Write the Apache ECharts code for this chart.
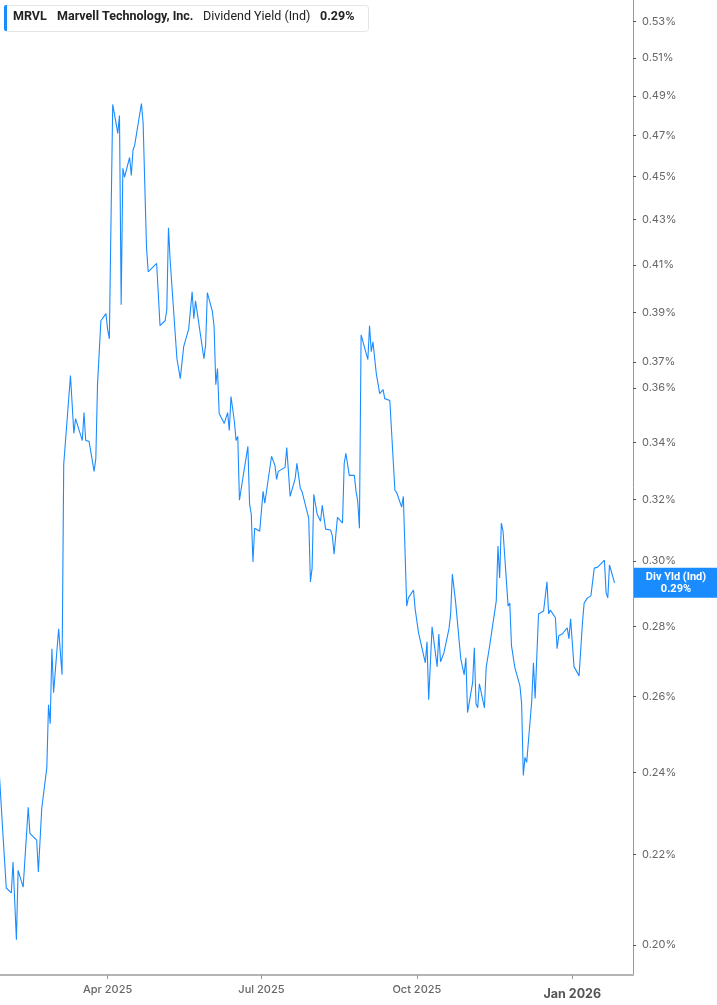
<!DOCTYPE html>
<html style="height: 100%">
<head>
<meta charset="utf-8">
</head>
<body style="height: 100%; margin: 0; background: #fff">
<div id="container" style="width: 717px; height: 1005px"></div>
<script type="text/javascript" src="https://cdn.jsdelivr.net/npm/echarts@6/dist/echarts.min.js"></script>
<script type="text/javascript">
var dom = document.getElementById('container');
var myChart = echarts.init(dom);

// trading dates
var dates = [
  '2025-01-27','2025-01-29','2025-01-31','2025-02-03','2025-02-04','2025-02-06','2025-02-07','2025-02-10','2025-02-13','2025-02-14',
  '2025-02-18','2025-02-19','2025-02-21','2025-02-24','2025-02-25','2025-02-26','2025-02-27','2025-02-28','2025-03-03','2025-03-05',
  '2025-03-06','2025-03-10','2025-03-12','2025-03-13','2025-03-17','2025-03-18','2025-03-19','2025-03-21','2025-03-24','2025-03-25',
  '2025-03-26','2025-03-28','2025-03-31','2025-04-01','2025-04-02','2025-04-03','2025-04-04','2025-04-06','2025-04-07','2025-04-08',
  '2025-04-09','2025-04-10','2025-04-11','2025-04-14','2025-04-15','2025-04-16','2025-04-17','2025-04-21','2025-04-22','2025-04-24',
  '2025-04-25','2025-04-30','2025-05-02','2025-05-05','2025-05-06','2025-05-07','2025-05-08','2025-05-12','2025-05-14','2025-05-16',
  '2025-05-19','2025-05-21','2025-05-22','2025-05-23','2025-05-28','2025-05-29','2025-05-30','2025-06-02','2025-06-03','2025-06-04',
  '2025-06-05','2025-06-06','2025-06-09','2025-06-11','2025-06-12','2025-06-13','2025-06-15','2025-06-16','2025-06-17','2025-06-18',
  '2025-06-20','2025-06-23','2025-06-24','2025-06-25','2025-06-26','2025-06-27','2025-06-30','2025-07-02','2025-07-03','2025-07-07',
  '2025-07-09','2025-07-10','2025-07-11','2025-07-15','2025-07-16','2025-07-18','2025-07-21','2025-07-22','2025-07-24','2025-07-25',
  '2025-07-29','2025-07-30','2025-07-31','2025-08-01','2025-08-03','2025-08-05','2025-08-06','2025-08-08','2025-08-11','2025-08-12',
  '2025-08-13','2025-08-15','2025-08-18','2025-08-19','2025-08-20','2025-08-21','2025-08-22','2025-08-25','2025-08-26','2025-08-27',
  '2025-08-28','2025-08-29','2025-09-02','2025-09-03','2025-09-04','2025-09-05','2025-09-07','2025-09-09','2025-09-11','2025-09-12',
  '2025-09-15','2025-09-18','2025-09-19','2025-09-22','2025-09-23','2025-09-25','2025-09-26','2025-09-29','2025-09-30','2025-10-01',
  '2025-10-02','2025-10-03','2025-10-06','2025-10-07','2025-10-08','2025-10-10','2025-10-13','2025-10-14','2025-10-15','2025-10-17',
  '2025-10-20','2025-10-21','2025-10-22','2025-10-24','2025-10-27','2025-10-28','2025-10-29','2025-10-30','2025-10-31','2025-11-03',
  '2025-11-04','2025-11-05','2025-11-06','2025-11-07','2025-11-10','2025-11-11','2025-11-12','2025-11-13','2025-11-17','2025-11-18',
  '2025-11-19','2025-11-20','2025-11-21','2025-11-24','2025-11-25','2025-11-26','2025-11-28','2025-12-01','2025-12-02','2025-12-03',
  '2025-12-04','2025-12-05','2025-12-08','2025-12-09','2025-12-10','2025-12-12','2025-12-15','2025-12-16','2025-12-17','2025-12-18',
  '2025-12-19','2025-12-22','2025-12-23','2025-12-24','2025-12-26','2025-12-29','2025-12-30','2025-12-31','2026-01-02','2026-01-05',
  '2026-01-07','2026-01-08','2026-01-10','2026-01-12','2026-01-13','2026-01-14','2026-01-16','2026-01-17','2026-01-20','2026-01-21',
  '2026-01-22','2026-01-23','2026-01-24','2026-01-26'
];

// dividend yield (Ind), percent
var yieldPct = [
  0.2389,0.2250,0.2124,0.2113,0.2183,0.2011,0.2164,0.2126,0.2313,0.2250,
  0.2234,0.2160,0.2310,0.2412,0.2577,0.2526,0.2734,0.2610,0.2792,0.2660,
  0.3321,0.3648,0.3432,0.3486,0.3406,0.3508,0.3406,0.3403,0.3297,0.3342,
  0.3613,0.3865,0.3894,0.3829,0.3792,0.4303,0.4856,0.4760,0.4710,0.4800,
  0.3931,0.4540,0.4497,0.4592,0.4506,0.4627,0.4652,0.4861,0.4760,0.4175,
  0.4070,0.4106,0.3845,0.3865,0.3910,0.4264,0.4119,0.3713,0.3636,0.3761,
  0.3833,0.3985,0.3873,0.3947,0.3713,0.3769,0.3981,0.3902,0.3841,0.3613,
  0.3675,0.3505,0.3468,0.3508,0.3442,0.3568,0.3475,0.3406,0.3421,0.3198,
  0.3273,0.3385,0.3185,0.3151,0.2996,0.3105,0.3095,0.3228,0.3188,0.3350,
  0.3318,0.3269,0.3297,0.3311,0.3381,0.3211,0.3273,0.3325,0.3239,0.3228,
  0.3138,0.2934,0.2977,0.3218,0.3151,0.3128,0.3181,0.3102,0.3099,0.3079,
  0.3021,0.3141,0.3122,0.3325,0.3360,0.3364,0.3283,0.3283,0.3228,0.3195,
  0.3105,0.3808,0.3710,0.3845,0.3741,0.3780,0.3655,0.3579,0.3594,0.3560,
  0.3553,0.3232,0.3225,0.3175,0.3211,0.2860,0.2885,0.2909,0.2851,0.2854,
  0.2780,0.2777,0.2694,0.2754,0.2591,0.2798,0.2683,0.2777,0.2697,0.2722,
  0.2792,0.2836,0.2958,0.2869,0.2705,0.2708,0.2660,0.2708,0.2556,0.2638,
  0.2737,0.2580,0.2569,0.2635,0.2569,0.2680,0.2685,0.2740,0.2876,0.3047,
  0.2946,0.3122,0.3095,0.2860,0.2869,0.2743,0.2680,0.2629,0.2580,0.2392,
  0.2438,0.2425,0.2588,0.2694,0.2594,0.2836,0.2845,0.2851,0.2934,0.2836,
  0.2848,0.2825,0.2734,0.2772,0.2777,0.2795,0.2763,0.2822,0.2683,0.2657,
  0.2810,0.2869,0.2885,0.2891,0.2888,0.2977,0.2980,0.2983,0.3002,0.2900,
  0.2885,0.2987,0.2968,0.2931
];

var yTicks = [0.20,0.22,0.24,0.26,0.28,0.30,0.32,0.34,0.36,0.37,0.39,0.41,0.43,0.45,0.47,0.49,0.51,0.53];
var xTicks = ['2025-04-01','2025-07-01','2025-10-01','2026-01-01'];
var monthNames = ['Jan','Feb','Mar','Apr','May','Jun','Jul','Aug','Sep','Oct','Nov','Dec'];

var lineColor = '#1a8cff';
var FONT = 'Roboto';
var AXFONT = 'Inter';

function ts(s) {
    var p = s.split('-');
    return Date.UTC(+p[0], +p[1] - 1, +p[2]);
}

var seriesData = dates.map(function (d, i) { return [ts(d), yieldPct[i]]; });
var lastVal = yieldPct[yieldPct.length - 1];
var xMin = Date.UTC(2025, 0, 27, 7);
var xMax = Date.UTC(2026, 1, 5, 22);

option = {
    animation: false,
    backgroundColor: '#fff',
    grid: { left: 0, right: 84, top: 0, bottom: 30 },
    xAxis: {
        type: 'value',
        min: xMin,
        max: xMax,
        splitLine: { show: false },
        axisLine: { show: true, lineStyle: { color: '#b4b4b4', width: 2 } },
        axisTick: { show: true, length: 4, lineStyle: { color: '#999' }, customValues: xTicks.map(ts) },
        axisLabel: {
            customValues: xTicks.map(ts),
            margin: 9,
            color: '#666',
            fontSize: 11,
            fontWeight: 500,
            fontFamily: AXFONT,
            formatter: function (v) {
                var d = new Date(v);
                var txt = monthNames[d.getUTCMonth()] + ' ' + d.getUTCFullYear();
                return d.getUTCMonth() === 0 ? '{b|' + txt + '}' : txt;
            },
            rich: {
                b: { fontWeight: 'bold', fontSize: 12.5, color: '#555', fontFamily: AXFONT, padding: [4, 0, 0, 0] }
            }
        }
    },
    yAxis: {
        type: 'log',
        logBase: 10,
        position: 'right',
        min: 0.19377,
        max: 0.5422,
        splitLine: { show: false },
        axisLine: { show: true, lineStyle: { color: '#999', width: 1 } },
        axisTick: { show: true, length: 3, lineStyle: { color: '#555' }, customValues: yTicks },
        axisLabel: {
            customValues: yTicks,
            margin: 9,
            color: '#666',
            fontSize: 11,
            fontFamily: AXFONT,
            formatter: function (v) { return v.toFixed(2) + '%'; }
        }
    },
    series: [{
        name: 'Dividend Yield (Ind)',
        type: 'line',
        data: seriesData,
        showSymbol: false,
        symbol: 'none',
        lineStyle: { color: lineColor, width: 1.1 },
        clip: true
    }]
};

myChart.setOption(option);

// legend box + last value badge on the axis
var badgeY = myChart.convertToPixel({ yAxisIndex: 0 }, lastVal);
var axisX = myChart.convertToPixel({ xAxisIndex: 0 }, xMax);
myChart.setOption({
    graphic: [
        {
            type: 'rect', left: 4, top: 5,
            shape: { width: 364, height: 26, r: 3 },
            style: { fill: '#fff', stroke: '#e4e4e4', lineWidth: 1 }
        },
        {
            type: 'rect', left: 4, top: 5,
            shape: { width: 3, height: 26, r: [2, 0, 0, 2] },
            style: { fill: lineColor }
        },
        { type: 'text', left: 13, top: 10, style: { text: 'MRVL', font: 'bold 12.5px ' + FONT, fill: '#222' } },
        { type: 'text', left: 57, top: 10, style: { text: 'Marvell Technology, Inc.', font: 'bold 12.5px ' + FONT, fill: '#222' } },
        { type: 'text', left: 203, top: 10, style: { text: 'Dividend Yield (Ind)', font: '12.5px ' + FONT, fill: '#222' } },
        { type: 'text', left: 320, top: 10, style: { text: lastVal.toFixed(2) + '%', font: 'bold 12.5px ' + FONT, fill: '#222' } },
        {
            type: 'rect', x: axisX + 1, y: badgeY - 15,
            shape: { width: 717 - axisX, height: 30 },
            style: { fill: lineColor }
        },
        {
            type: 'text', x: axisX + 43, y: badgeY - 6,
            style: { text: 'Div Yld (Ind)', font: 'bold 11px ' + FONT, fill: '#fff', align: 'center', verticalAlign: 'middle' }
        },
        {
            type: 'text', x: axisX + 43, y: badgeY + 6,
            style: { text: lastVal.toFixed(2) + '%', font: 'bold 11px ' + FONT, fill: '#fff', align: 'center', verticalAlign: 'middle' }
        }
    ]
});
</script>
</body>
</html>
